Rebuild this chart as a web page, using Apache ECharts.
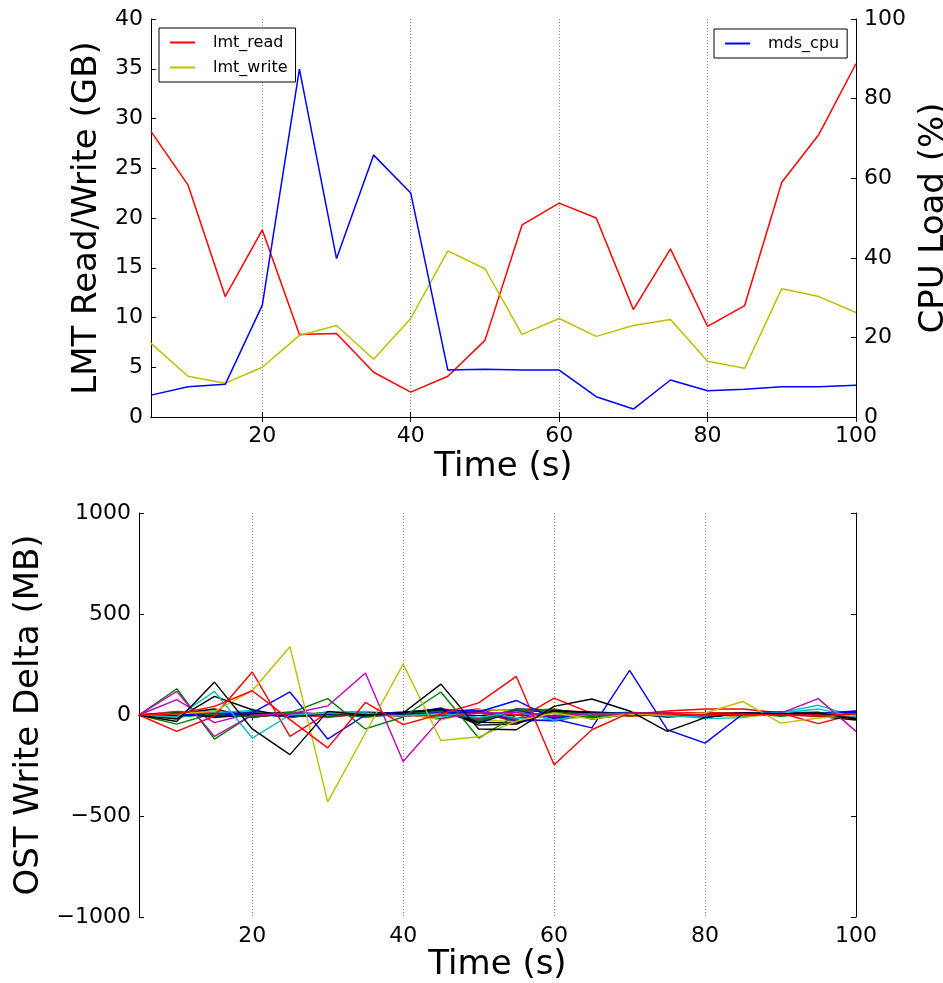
<!DOCTYPE html>
<html>
<head>
<meta charset="utf-8">
<script src="https://cdn.jsdelivr.net/npm/echarts@6/dist/echarts.min.js"></script>
<style>html,body{margin:0;padding:0;background:#fff;}#c{width:943px;height:983px;}</style>
</head>
<body>
<div id="c"></div>
<script>
// ---------- data ----------
const times = [5,10,15,20,25,30,35,40,45,50,55,60,65,70,75,80,85,90,95,100];
const xTicks = [20,40,60,80,100];
const lmtRead  = [28.7,23.3,12.1,18.8,8.3,8.4,4.5,2.5,4.1,7.7,19.3,21.5,20.0,10.8,16.9,9.1,11.2,23.6,28.4,35.5];
const lmtWrite = [7.4,4.1,3.4,5.0,8.2,9.2,5.8,9.9,16.7,14.9,8.3,9.9,8.1,9.2,9.8,5.6,4.9,12.9,12.1,10.5];
const mdsCpu   = [5.5,7.6,8.2,28.1,87.4,39.8,65.8,56.3,11.8,12.0,11.8,11.8,5.1,2.0,9.3,6.6,7.0,7.6,7.6,8.0];
const leftTicksTop = [0,5,10,15,20,25,30,35,40];
const rightTicksTop = [0,20,40,60,80,100];
const ostTicks = [-1000,-500,0,500,1000];

// OST write deltas (MB), one array per OST
const ostB1 = [0,5,-5,10,114,-119,0,5,10,15,72,-20,-64,221,-73,-139,5,10,0,15];
const ostG1 = [0,130,-119,0,10,81,-69,-10,114,-114,0,10,-5,5,0,5,0,5,10,0];
const ostR1 = [0,-81,-5,213,-106,10,5,-5,0,10,0,8,4,6,10,12,8,4,6,2];
const ostC1 = [0,-10,117,-114,0,10,10,-5,8,-12,15,-25,6,8,-5,-8,6,10,30,-10];
const ostM1 = [0,117,-106,0,5,45,208,-230,-18,10,12,-6,8,4,6,-5,4,8,81,-81];
const ostY1 = [0,5,18,120,338,-430,-89,252,-126,-108,-30,10,-20,5,0,10,67,-40,-15,0];
const ostK1 = [0,-32,163,-69,-196,18,0,10,153,-69,-73,43,79,20,-81,-13,10,5,10,-20];
const ostB2 = [0,8,-5,12,4,-6,10,6,20,-25,15,-10,5,8,-4,6,10,5,8,12];
const ostG2 = [0,-12,6,3,-8,15,-4,2,25,10,-20,18,-6,4,3,-2,5,8,4,-6];
const ostR2 = [0,5,43,120,-23,-163,62,-48,5,60,191,-246,-73,10,5,0,5,0,-5,5];
const ostC2 = [0,4,20,-6,2,8,-12,6,10,-15,22,-28,4,8,-6,-10,6,5,12,-10];
const ostM2 = [0,76,-38,10,4,-4,8,-6,20,-18,30,-20,6,5,6,-4,8,4,12,6];
const ostY2 = [0,-6,8,10,-4,6,3,-6,12,-22,-35,15,12,4,-8,5,-3,6,-5,8];
const ostK2 = [0,-20,92,26,-10,4,10,6,18,-40,30,25,-20,4,6,-10,6,10,14,-20];
const ostB3 = [0,-8,12,6,-10,6,-6,4,35,-40,20,-18,10,3,6,8,12,4,6,14];
const ostG3 = [0,-45,10,-5,6,-8,12,4,-18,22,25,-12,6,-4,8,2,-6,10,12,-4];
const ostR3 = [0,10,14,-8,5,-12,6,-4,12,30,-25,84,8,2,20,30,30,10,-43,6];
const ostC3 = [0,-10,10,22,-8,14,18,4,-10,20,-15,-32,8,14,4,-18,-13,12,48,-8];
const ostM3 = [0,14,-10,18,-6,4,10,-8,15,20,-18,12,-10,6,2,4,-5,8,10,5];
const ostY3 = [0,12,-14,6,8,-6,6,10,-25,28,20,-22,-8,6,3,6,-8,4,6,-6];
const ostK3 = [0,6,30,-12,8,-4,5,10,22,-30,28,10,-15,6,4,-6,8,12,-8,-10];
const ostB4 = [0,6,-8,-6,12,4,8,10,28,-35,25,-15,4,8,10,2,6,8,4,18];
const ostG4 = [0,10,-6,14,-12,10,-10,8,12,-24,30,15,-10,8,-4,6,12,-6,8,-2];
const ostR4 = [0,18,8,-12,10,6,-8,6,30,15,-35,25,12,-6,4,-8,6,4,-6,10];
const ostK4 = [0,10,-12,4,14,-8,6,14,30,-50,-45,20,15,8,-10,2,10,15,-6,-25];
const ostB5 = [0,-4,6,10,-6,8,4,14,24,20,-30,-25,6,12,4,-4,10,10,8,20];
const ostG5 = [0,8,4,-10,14,-6,8,2,20,-30,18,30,-8,2,6,8,-4,12,-6,4];
const ostK5 = [0,4,-6,8,-4,10,-2,12,26,-36,-40,22,10,6,-6,4,8,6,4,-15];

// ---------- styling ----------
const C = {b:'#0000ff', g:'#008000', r:'#ff0000', c:'#00bfbf', m:'#bf00bf', y:'#bfbf00', k:'#000000'};
const FONT = 'DejaVu Sans';
const osts = [
  [ostB2,C.b],[ostG2,C.g],[ostR4,C.r],[ostC2,C.c],[ostM3,C.m],[ostY2,C.y],[ostK3,C.k],
  [ostB3,C.b],[ostG3,C.g],[ostR3,C.r],[ostC3,C.c],[ostM2,C.m],[ostY3,C.y],[ostK2,C.k],
  [ostB4,C.b],[ostG4,C.g],[ostK4,C.k],[ostB5,C.b],[ostG5,C.g],[ostK5,C.k],
  [ostB1,C.b],[ostG1,C.g],[ostR1,C.r],[ostC1,C.c],[ostM1,C.m],[ostY1,C.y],[ostK1,C.k],[ostR2,C.r]
];
const pairs = arr => times.map((t,i)=>[t,arr[i]]);
const minus = v => String(v).replace('-', '\u2212');

const axisLineStyle = {show:true, lineStyle:{color:'#000', width:1}};
const tickIn = {show:true, inside:true, length:5, lineStyle:{color:'#000'}};
const lblStyle = {color:'#000', fontSize:22, fontFamily:FONT, margin:8};
const nameStyle = {color:'#000', fontSize:34, fontFamily:FONT};

function xAxes(gridIndex){
  return [
    {type:'value', gridIndex, min:5, max:100, position:'bottom',
     axisLine:axisLineStyle, axisTick:Object.assign({customValues:xTicks}, tickIn),
     axisLabel:Object.assign({customValues:xTicks}, lblStyle),
     splitLine:{show:true, lineStyle:{color:'#8a8a8a', type:[1,2], width:1}},
     name:'Time (s)', nameLocation:'middle', nameGap:gridIndex===0?33:28, nameTextStyle:nameStyle},
    {type:'value', gridIndex, min:5, max:100, position:'top',
     axisLine:axisLineStyle, axisTick:Object.assign({customValues:xTicks}, tickIn),
     axisLabel:{show:false}, splitLine:{show:false}}
  ];
}

const series = [
  {name:'lmt_read', type:'line', xAxisIndex:0, yAxisIndex:0, data:pairs(lmtRead), symbol:'none', lineStyle:{color:C.r, width:1.5}, itemStyle:{color:C.r}},
  {name:'lmt_write', type:'line', xAxisIndex:0, yAxisIndex:0, data:pairs(lmtWrite), symbol:'none', lineStyle:{color:C.y, width:1.5}, itemStyle:{color:C.y}},
  {name:'mds_cpu', type:'line', xAxisIndex:0, yAxisIndex:1, data:pairs(mdsCpu), symbol:'none', lineStyle:{color:C.b, width:1.5}, itemStyle:{color:C.b}}
];
osts.forEach(([arr,col],i)=>{
  series.push({name:'ost'+i, type:'line', xAxisIndex:2, yAxisIndex:2, data:pairs(arr), symbol:'none',
    lineStyle:{color:col, width:1.4}, itemStyle:{color:col}});
});

const legendText = {fontSize:16, fontFamily:FONT, color:'#000', padding:[0,0,0,13], lineHeight:17};
const option = {
  animation:false,
  backgroundColor:'#fff',
  grid:[
    {left:151, right:87, top:19, height:398, outerBoundsMode:'none', containLabel:false},
    {left:139, right:87, top:513, height:404, outerBoundsMode:'none', containLabel:false}
  ],
  xAxis:[...xAxes(0), ...xAxes(1)],
  yAxis:[
    {type:'value', gridIndex:0, min:0, max:40, interval:5, position:'left',
     axisLine:axisLineStyle, axisTick:tickIn, axisLabel:lblStyle, splitLine:{show:false},
     name:'LMT Read/Write (GB)', nameLocation:'middle', nameRotate:90, nameGap:32, nameTextStyle:nameStyle},
    {type:'value', gridIndex:0, min:0, max:100, interval:20, position:'right',
     axisLine:axisLineStyle, axisTick:tickIn, axisLabel:lblStyle, splitLine:{show:false},
     name:'CPU Load (%)', nameLocation:'middle', nameRotate:90, nameGap:50, nameTextStyle:nameStyle},
    {type:'value', gridIndex:1, min:-1000, max:1000, interval:500, position:'left',
     axisLine:axisLineStyle, axisTick:tickIn, axisLabel:Object.assign({formatter:minus}, lblStyle), splitLine:{show:false},
     name:'OST Write Delta (MB)', nameLocation:'middle', nameRotate:90, nameGap:92, nameTextStyle:nameStyle},
    {type:'value', gridIndex:1, min:-1000, max:1000, interval:500, position:'right',
     axisLine:axisLineStyle, axisTick:tickIn, axisLabel:{show:false}, splitLine:{show:false}}
  ],
  legend:[
    {data:['lmt_read','lmt_write'], orient:'vertical', left:159, top:28, padding:[6,8,6,11], itemGap:8,
     itemWidth:25, itemHeight:2, icon:'rect', borderColor:'#000', borderWidth:1, backgroundColor:'#fff',
     textStyle:legendText, selectedMode:false},
    {data:['mds_cpu'], orient:'vertical', left:714, top:29, padding:[6,8,6,11], itemGap:8,
     itemWidth:25, itemHeight:2, icon:'rect', borderColor:'#000', borderWidth:1, backgroundColor:'#fff',
     textStyle:legendText, selectedMode:false}
  ],
  series
};
const chart = echarts.init(document.getElementById('c'), null, {renderer:'canvas'});
chart.setOption(option);
</script>
</body>
</html>
